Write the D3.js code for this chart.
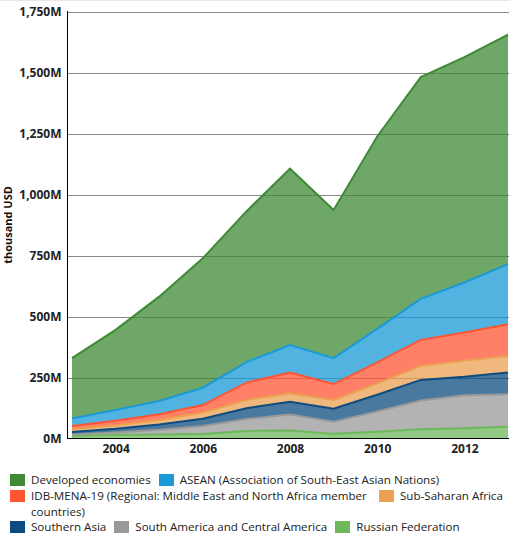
<!DOCTYPE html>
<html><head><meta charset="utf-8">
<script src="https://cdn.jsdelivr.net/npm/d3@7"></script>
<style>
body{margin:0;background:#fff;}
#wrap{position:relative;width:510px;height:539px;overflow:hidden;}
svg{position:absolute;left:0;top:0;}
#legend{position:absolute;left:10px;top:472px;width:500px;font-family:"Open Sans",sans-serif;font-size:11.6px;line-height:15.8px;color:#222;display:flex;flex-wrap:wrap;align-items:flex-start;column-gap:8px;}
#legend .item{display:flex;align-items:flex-start;flex:0 0 auto;}
#legend .sw{flex:0 0 auto;width:15px;height:12px;margin-right:6px;margin-top:2px;}
#legend .tx{max-width:340px;}
</style></head>
<body><div id="wrap"><svg id="chart" width="510" height="539"></svg><div id="legend"></div></div>
<script>
const years = [2003,2004,2005,2006,2007,2008,2009,2010,2011,2012,2013];
const seriesNames = ["Russian Federation","South America and Central America","Southern Asia","Sub-Saharan Africa","IDB-MENA-19 (Regional: Middle East and North Africa member countries)","ASEAN (Association of South-East Asian Nations)","Developed economies"];
const russia    = [12,16,18,20,33,35,21,30,40,44,50];
const southAm   = [6,11,20,33,49,65,50,83,118,135,133];
const southAsia = [11,15,21,30,44,53,53,68,84,76,89];
const subSahara = [11,14,19,25,34,34,36,47,57,66,68];
const mena      = [13,19,23,31,71,85,65,86,107,115,130];
const asean     = [31,44,55,71,84,113,106,137,168,205,246];
const developed = [247,328,427,530,617,722,607,788,908,923,940];
const seriesValues = [russia,southAm,southAsia,subSahara,mena,asean,developed];
const colors = ["#6eb85c","#999999","#0e4c80","#eba050","#ff5533","#1a9ad6","#3e8a35"];
const yTicks = [0,250,500,750,1000,1250,1500,1750];
const xTicks = [2004,2006,2008,2010,2012];
const legendOrder = [6,5,4,3,2,1,0];

const rows = years.map((y,i)=>{const r={year:y}; seriesNames.forEach((n,k)=>r[n]=seriesValues[k][i]); return r;});
const stack = d3.stack().keys(seriesNames)(rows);

const svg = d3.select("#chart");
const x = d3.scaleLinear().domain([2003,2013]).range([72,508]);
const y = d3.scaleLinear().domain([0,1750]).range([439,11.7]);

svg.append("line").attr("x1",0).attr("x2",510).attr("y1",0.5).attr("y2",0.5).attr("stroke","#e8e8e8");

svg.append("g").selectAll("line").data(yTicks.filter(t=>t>0)).join("line")
  .attr("x1",68).attr("x2",509).attr("y1",d=>Math.round(y(d))+0.5).attr("y2",d=>Math.round(y(d))+0.5)
  .attr("stroke","#888").attr("stroke-width",1);

const area = d3.area().x(d=>x(d.data.year)).y0(d=>y(d[0])).y1(d=>y(d[1]));
const line = d3.line().x(d=>x(d.data.year)).y(d=>y(d[1]));
svg.append("g").selectAll("path").data(stack).join("path")
  .attr("d",area).attr("fill",(d,i)=>colors[i]).attr("fill-opacity",0.75);
svg.append("g").selectAll("path").data(stack).join("path")
  .attr("d",line).attr("fill","none").attr("stroke",(d,i)=>colors[i]).attr("stroke-width",2);

const yAxis = d3.axisLeft(y).tickValues(yTicks).tickSize(0).tickPadding(6)
  .tickFormat(d=>d3.format(",")(d)+"M");
const gy = svg.append("g").attr("transform","translate(67.5,0)").call(yAxis);
gy.select(".domain").attr("stroke","#000").attr("d","M0,11V439");
gy.selectAll("text").attr("font-family","Open Sans, sans-serif").attr("font-size",12).attr("font-weight","bold").attr("fill","#222");

const xAxis = d3.axisBottom(x).tickValues(xTicks).tickSize(0).tickPadding(6).tickFormat(d3.format("d"));
const gx = svg.append("g").attr("transform","translate(0,438.5)").call(xAxis);
gx.select(".domain").attr("stroke","#000").attr("d","M67,0H509");
gx.selectAll("text").attr("font-family","Open Sans, sans-serif").attr("font-size",12).attr("font-weight","bold").attr("fill","#222");

svg.append("text").attr("transform","translate(12,225) rotate(-90)").attr("text-anchor","middle")
  .attr("font-family","Open Sans, sans-serif").attr("font-size",11).attr("font-weight","bold").attr("fill","#111")
  .text("thousand USD");

const lg = d3.select("#legend");
legendOrder.forEach(k=>{
  const it = lg.append("div").attr("class","item");
  it.append("div").attr("class","sw").style("background",colors[k]);
  it.append("div").attr("class","tx").text(seriesNames[k]);
});
</script></body></html>
